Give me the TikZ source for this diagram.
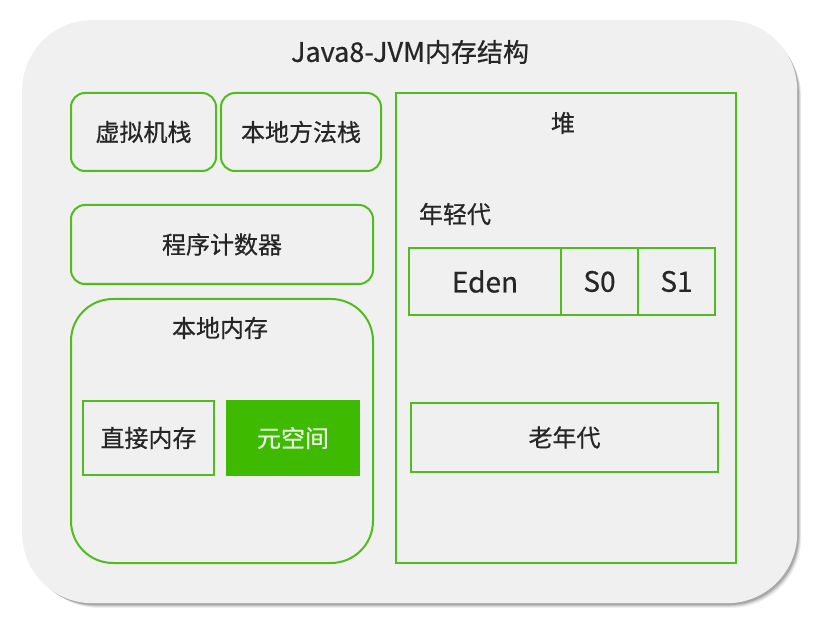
\documentclass[tikz,border=0pt]{standalone}
\usepackage{fontspec}
\setmainfont{Noto Sans CJK SC}[FakeBold=0.6]
\begin{document}
\begin{tikzpicture}[x=1pt,y=-1pt,
  txt/.style={text=black!85, font=\fontsize{24}{28}\selectfont},
  lat/.style={font=\fontsize{28}{32}\selectfont},
  gbox/.style={draw=boxgreen, line width=2pt, anchor=north west, inner sep=0pt, txt},
  rbox/.style={gbox, rounded corners=14pt}]
\definecolor{boxgreen}{RGB}{82,188,30}
\definecolor{fillgreen}{RGB}{62,186,0}
\definecolor{bggray}{RGB}{240,240,240}
\useasboundingbox (0,0) rectangle (831,620);
\fill[white] (0,0) rectangle (831,620);
% shadow
\foreach \o/\c in {7/6,6/10,5/16,4/24,3/34}{
  \fill[black!\c, rounded corners=70pt] (22+\o,20+\o) rectangle (797+\o*0.6,603+\o*0.7);
}
\node[draw=none, fill=bggray, rounded corners=70pt, anchor=north west, minimum width=775pt, minimum height=583pt, inner sep=0pt] (outer) at (22,20) {};
\node[txt] (title) at (410,52) {{\fontsize{27}{32}\selectfont Java8-JVM}{\fontsize{26}{30}\selectfont 内存结构}};
% left column
\node[rbox, minimum width=145pt, minimum height=78pt] (vms) at (70,92) {虚拟机栈};
\node[rbox, minimum width=160pt, minimum height=78pt] (nms) at (220,92) {本地方法栈};
\node[rbox, minimum width=302pt, minimum height=79pt] (pc) at (70,204) {程序计数器};
\node[gbox, rounded corners=42pt, minimum width=302pt, minimum height=264pt] (native) at (70,298) {};
\node[txt] (nativelbl) at (220,328) {本地内存};
\node[gbox, minimum width=131pt, minimum height=74pt] (direct) at (82,400) {直接内存};
\node[gbox, draw=fillgreen, fill=fillgreen, text=white!92!fillgreen, minimum width=132pt, minimum height=74pt] (meta) at (226,400) {元空间};
% heap
\node[gbox, minimum width=340pt, minimum height=470pt] (heap) at (395,92) {};
\node[txt] (heaplbl) at (563,123) {堆};
\node[txt] (younglbl) at (455,214) {年轻代};
\node[gbox, lat, minimum width=152pt, minimum height=67pt] (eden) at (408,247) {Eden};
\node[gbox, lat, minimum width=77pt, minimum height=67pt] (s0) at (560,247) {S0};
\node[gbox, lat, minimum width=77pt, minimum height=67pt] (s1) at (637,247) {S1};
\node[gbox, minimum width=307pt, minimum height=69pt] (old) at (410,402) {老年代};
\end{tikzpicture}
\end{document}
